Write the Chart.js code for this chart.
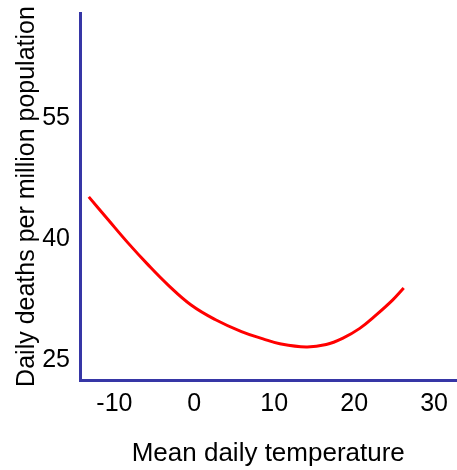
<!DOCTYPE html>
<html>
<head>
<meta charset="utf-8">
<script src="https://cdn.jsdelivr.net/npm/chart.js@4"></script>
<style>
  html, body { margin: 0; padding: 0; background: #fff; }
  #wrap { width: 457px; height: 470px; }
</style>
</head>
<body>
<div id="wrap"><canvas id="tempChart"></canvas></div>
<script>
// values
const temps = [-13.2, -10.8, -8.3, -5.8, -3.3, -0.4, 2.6, 5.9, 8.6, 10.7, 14.0, 16.5, 18.6, 20.7, 22.8, 24.8, 26.2];
const deaths = [45.2, 42.4, 39.5, 36.8, 34.3, 31.8, 30.0, 28.5, 27.6, 27.0, 26.6, 26.9, 27.7, 28.9, 30.6, 32.4, 33.9];
const xTicks = [-10, 0, 10, 20, 30];
const yTicks = [25, 40, 55];

const axisColor = '#3636a6';
const family = '"Liberation Sans", Arial, sans-serif';
const tickFont = { family: family, size: 25 };

document.addEventListener('DOMContentLoaded', () => {
    const ctx = document.getElementById('tempChart');
    new Chart(ctx, {
        type: 'line',
        data: {
            datasets: [{
                data: temps.map((t, i) => ({ x: t, y: deaths[i] })),
                borderColor: '#ff0000',
                borderWidth: 3,
                pointRadius: 0,
                fill: false,
                tension: 0.4
            }]
        },
        options: {
            responsive: true,
            maintainAspectRatio: false,
            animation: false,
            layout: { padding: { top: 13, right: 0, left: 0, bottom: 0 } },
            plugins: {
                legend: { display: false },
                tooltip: { enabled: false }
            },
            scales: {
                x: {
                    type: 'linear',
                    min: -14.3,
                    max: 32.8,
                    afterBuildTicks: (s) => { s.ticks = xTicks.map(v => ({ value: v })); },
                    afterFit: (s) => { s.height = 90; },
                    grid: { display: false, drawTicks: false },
                    border: { display: true, color: axisColor, width: 3 },
                    ticks: { color: '#000', font: tickFont, padding: 9, maxRotation: 0 },
                    title: {
                        display: true,
                        text: 'Mean daily temperature',
                        color: '#000',
                        font: { family: family, size: 26 },
                        padding: { top: 0, bottom: 1 }
                    }
                },
                y: {
                    min: 22.5,
                    max: 68,
                    afterBuildTicks: (s) => { s.ticks = yTicks.map(v => ({ value: v })); },
                    afterFit: (s) => {
                        s.width = 80;
                        // ticks sit well inside the axis, no label overhang to reserve
                        s.paddingTop = 0;
                        s.paddingBottom = 0;
                    },
                    grid: { display: false, drawTicks: false },
                    border: { display: true, color: axisColor, width: 3 },
                    ticks: { color: '#000', font: tickFont, padding: 10 },
                    title: {
                        display: true,
                        text: 'Daily deaths per million population',
                        color: '#000',
                        font: { family: family, size: 25 },
                        padding: { top: 12, bottom: 0 }
                    }
                }
            }
        }
    });
});
</script>
</body>
</html>
